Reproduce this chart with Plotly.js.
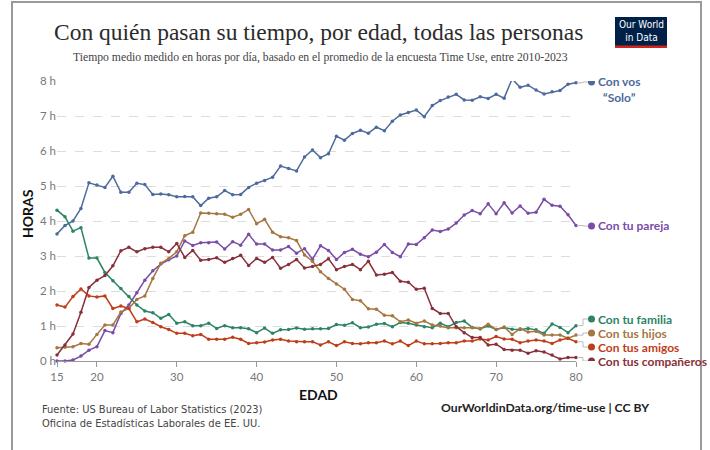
<!DOCTYPE html>
<html>
<head>
<meta charset="utf-8">
<script src="https://cdn.plot.ly/plotly-3.0.1.min.js"></script>
<style>
  html, body { margin: 0; padding: 0; background: #fff; }
  #chart { width: 710px; height: 450px; }
</style>
</head>
<body>
<div id="chart"></div>
<script>
// ---- Data (hours per day, by age) ----
const ages = [15,16,17,18,19,20,21,22,23,24,25,26,27,28,29,30,31,32,33,34,35,36,37,38,39,40,41,42,43,44,45,46,47,48,49,50,51,52,53,54,55,56,57,58,59,60,61,62,63,64,65,66,67,68,69,70,71,72,73,74,75,76,77,78,79,80];

const solo = [3.63,3.87,4.00,4.36,5.09,5.03,4.96,5.28,4.82,4.82,
  5.08,5.04,4.76,4.77,4.75,4.69,4.70,4.69,4.44,4.65,
  4.69,4.87,4.75,4.76,4.96,5.08,5.16,5.25,5.57,5.50,
  5.43,5.83,6.03,5.81,5.92,6.42,6.31,6.50,6.59,6.51,
  6.68,6.58,6.85,7.03,7.10,7.17,6.98,7.30,7.44,7.54,
  7.62,7.46,7.45,7.55,7.50,7.62,7.51,8.06,7.82,7.88,
  7.74,7.63,7.69,7.73,7.91,7.95];

const pareja = [0.00,0.00,0.03,0.14,0.31,0.41,0.87,0.81,1.36,1.60,
  1.95,2.31,2.58,2.77,2.89,3.00,3.43,3.30,3.38,3.38,
  3.40,3.20,3.41,3.31,3.62,3.34,3.34,3.17,3.17,3.27,
  3.08,3.21,2.91,3.29,3.16,2.90,3.10,3.19,3.05,2.98,
  3.11,3.33,3.10,2.98,3.34,3.33,3.52,3.74,3.70,3.77,
  3.94,4.17,4.30,4.21,4.49,4.21,4.52,4.23,4.43,4.22,
  4.25,4.62,4.45,4.42,4.18,3.87];

const familia = [4.31,4.12,3.71,3.81,2.94,2.94,2.53,2.29,2.07,1.84,
  1.60,1.43,1.38,1.22,1.33,1.08,1.12,1.01,1.01,1.08,
  0.93,1.01,0.95,0.95,0.92,0.81,0.94,0.79,0.89,0.90,
  0.94,0.91,0.92,0.92,0.93,1.04,1.02,1.09,0.95,0.97,
  1.05,1.07,0.98,1.10,1.08,1.03,0.98,0.95,1.08,0.98,
  1.10,1.14,0.96,0.92,1.00,0.90,0.96,0.91,0.90,0.93,
  0.89,0.79,1.06,0.96,0.81,1.01];

const hijos = [0.38,0.39,0.41,0.50,0.48,0.76,1.03,1.03,1.40,1.50,
  1.76,1.86,2.36,2.79,2.93,3.12,3.58,3.68,4.23,4.22,
  4.21,4.19,4.11,4.19,4.33,3.92,4.05,3.68,3.55,3.52,
  3.44,3.03,2.85,2.55,2.36,2.20,2.05,1.76,1.72,1.49,
  1.48,1.31,1.29,1.12,1.17,1.08,1.14,1.03,1.00,0.95,
  0.95,0.95,0.95,0.92,1.05,0.90,0.97,0.76,0.92,0.83,
  0.85,0.74,0.74,0.74,0.65,0.74];

const amigos = [1.60,1.54,1.84,2.06,1.86,1.83,1.86,1.50,1.57,1.50,
  1.12,1.20,1.10,0.98,0.90,0.79,0.79,0.72,0.76,0.62,
  0.62,0.62,0.68,0.62,0.50,0.52,0.54,0.60,0.62,0.57,
  0.55,0.55,0.55,0.46,0.55,0.44,0.55,0.50,0.49,0.52,
  0.52,0.57,0.49,0.57,0.44,0.57,0.49,0.49,0.50,0.52,
  0.52,0.57,0.57,0.63,0.60,0.70,0.63,0.62,0.52,0.57,
  0.60,0.57,0.50,0.60,0.65,0.55];

const companeros = [0.17,0.46,0.77,1.39,2.10,2.31,2.44,2.72,3.15,3.25,
  3.12,3.21,3.25,3.25,3.12,3.36,2.96,3.16,2.88,2.90,
  2.95,2.82,2.93,3.02,2.73,2.93,2.82,2.96,2.65,2.76,
  2.90,2.66,2.70,2.76,2.92,2.61,2.70,2.76,2.61,2.85,
  2.46,2.48,2.53,2.28,2.25,2.05,2.08,1.50,1.36,1.36,
  0.98,0.81,0.67,0.67,0.46,0.48,0.33,0.31,0.31,0.22,
  0.29,0.26,0.17,0.06,0.10,0.10];

const seriesNames = ['Con vos<br>“Solo”','Con tu pareja','Con tu familia','Con tus hijos','Con tus amigos','Con tus compañeros'];
const xTickVals = [15,20,30,40,50,60,70,80];
const yTickVals = [0,1,2,3,4,5,6,7,8];

// ---- Styling / layout ----
const colors = ['#4C6A9C','#7A4CA8','#2C8465','#A5763F','#BE3E1A','#883039'];
const allSeries = [solo, pareja, familia, hijos, amigos, companeros];

// pixel geometry helpers
const W = 710, H = 450;
const M = {l: 57, r: 134, t: 81, b: 89};
const PW = W - M.l - M.r, PH = H - M.t - M.b;
const px = x => (x - M.l) / PW;
const py = y => (H - M.b - y) / PH;

const traces = allSeries.map((s, i) => ({
  x: ages, y: s, type: 'scatter', mode: 'lines+markers',
  line: {color: colors[i], width: 1.5},
  marker: {color: colors[i], size: 3.5},
  hoverinfo: 'skip', showlegend: false, cliponaxis: false
}));

// label vertical pixel positions (layout)
const labelY = [82, 226, 319, 333, 347, 361];
const labelTextY = [89, 226, 319, 333, 347, 361];

const shapes = [];
const annotations = [];

// frame
shapes.push({type:'path', xref:'paper', yref:'paper',
  path:`M ${px(12)},${py(450)} L ${px(12)},${py(2)} L ${px(701)},${py(2)} L ${px(701)},${py(450)}`,
  line:{color:'#9a9a9a', width:2}});

// connectors and dots
allSeries.forEach((s, i) => {
  const lastY = s[s.length - 1];
  const lblH = (H - M.b - labelY[i]) / PH * 8; // convert to data units (range 0-8)
  shapes.push({type:'path', xref:'paper', yref:'y',
    path:`M ${px(577)},${lastY} L ${px(583)},${lastY} L ${px(583)},${lblH} L ${px(589)},${lblH}`,
    line:{color:'#bdbdbd', width:1}});
  shapes.push({type:'circle', xref:'paper', yref:'y',
    xsizemode:'pixel', ysizemode:'pixel', xanchor: px(591.5), yanchor: lblH,
    x0:-3.5, x1:3.5, y0:-3.5, y1:3.5,
    fillcolor: colors[i], line:{color: colors[i], width:0}});
  annotations.push({xref:'paper', yref:'paper', x: px(596), y: py(labelTextY[i]),
    xanchor:'left', yanchor:'middle', align:'center', showarrow:false,
    text: seriesNames[i],
    font:{family:'Lato, "Noto Sans", sans-serif', size:12, color: colors[i], weight:700}});
});

// logo
shapes.push({type:'rect', xref:'paper', yref:'paper', x0:px(615), x1:px(667), y0:py(48), y1:py(17),
  fillcolor:'#002147', line:{width:0}});
shapes.push({type:'rect', xref:'paper', yref:'paper', x0:px(615), x1:px(667), y0:py(48), y1:py(45.5),
  fillcolor:'#ce261e', line:{width:0}});
annotations.push({xref:'paper', yref:'paper', x:px(641), y:py(31), xanchor:'center', yanchor:'middle',
  showarrow:false, text:'Our World<br>in Data', align:'center',
  font:{family:'"Liberation Sans Narrow", "DejaVu Sans Condensed", Lato, sans-serif', size:10, color:'#fff'}});

// title & subtitle
annotations.push({xref:'paper', yref:'paper', x:px(318), y:py(32), xanchor:'center', yanchor:'middle',
  showarrow:false, text:'Con quién pasan su tiempo, por edad, todas las personas',
  font:{family:'"Liberation Serif", "DejaVu Serif", serif', size:23.5, color:'#2b2b2b'}});
annotations.push({xref:'paper', yref:'paper', x:px(320), y:py(57), xanchor:'center', yanchor:'middle',
  showarrow:false, text:'Tiempo medio medido en horas por día, basado en el promedio de la encuesta Time Use, entre 2010-2023',
  font:{family:'"Liberation Serif", "DejaVu Serif", serif', size:11.7, color:'#444'}});

// axis titles
annotations.push({xref:'paper', yref:'paper', x:px(27), y:py(214), xanchor:'center', yanchor:'middle',
  showarrow:false, text:'HORAS', textangle:-90,
  font:{family:'Lato, sans-serif', size:14, color:'#111', weight:700}});
annotations.push({xref:'paper', yref:'paper', x:px(318), y:py(394), xanchor:'center', yanchor:'middle',
  showarrow:false, text:'EDAD',
  font:{family:'Lato, sans-serif', size:14, color:'#111', weight:700}});

// footer
annotations.push({xref:'paper', yref:'paper', x:px(40), y:py(416), xanchor:'left', yanchor:'middle',
  showarrow:false, align:'left',
  text:'Fuente: US Bureau of Labor Statistics (2023)<br>Oficina de Estadísticas Laborales de EE. UU.',
  font:{family:'"Liberation Sans Narrow", "DejaVu Sans Condensed", Lato, sans-serif', size:11, color:'#444'}});
annotations.push({xref:'paper', yref:'paper', x:px(651), y:py(407), xanchor:'right', yanchor:'middle',
  showarrow:false, text:'OurWorldinData.org/time-use | CC BY',
  font:{family:'Lato, sans-serif', size:12.2, color:'#222', weight:700}});

const layout = {
  width: W, height: H,
  margin: M,
  paper_bgcolor:'#fff', plot_bgcolor:'#fff',
  showlegend:false,
  xaxis: {
    range:[15, 80], tickvals: xTickVals, ticktext: xTickVals.map(String),
    showgrid:false, zeroline:false, showline:true, linecolor:'#9a9a9a', linewidth:1,
    ticks:'outside', ticklen:5, tickcolor:'#9a9a9a',
    tickfont:{family:'Lato, sans-serif', size:11.5, color:'#777'}
  },
  yaxis: {
    range:[0, 8], tickvals: yTickVals, ticktext: yTickVals.map(v => v + ' h'),
    showgrid:true, gridcolor:'#dcdcdc', griddash:'dash', gridwidth:1,
    zeroline:false, showline:false, ticks:'',
    tickfont:{family:'Lato, sans-serif', size:11.5, color:'#777'}
  },
  shapes, annotations
};

Plotly.newPlot('chart', traces, layout, {displayModeBar:false, staticPlot:true});
</script>
</body>
</html>
